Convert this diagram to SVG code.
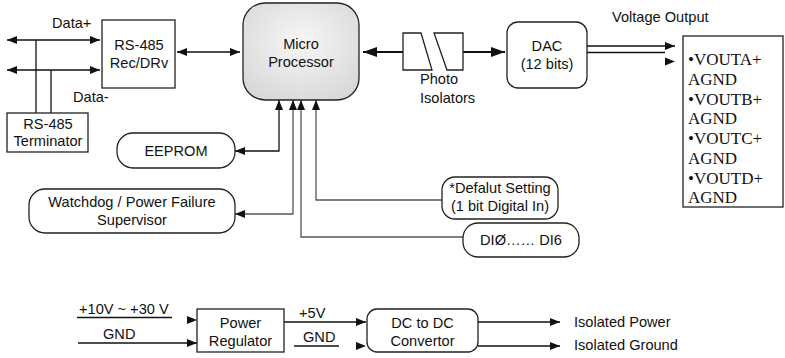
<svg xmlns="http://www.w3.org/2000/svg" width="785" height="358" viewBox="0 0 785 358">
<style>
text{font-family:"Liberation Sans",Arial,sans-serif;font-size:14.6px;fill:#111}
.c{text-anchor:middle}
.serif{font-family:"Liberation Serif","Times New Roman",serif;font-size:17px}
.box{fill:#fff;stroke:#222;stroke-width:1.3}
.ln{fill:none;stroke:#111;stroke-width:1.3}
.lg{fill:none;stroke:#555;stroke-width:1.3}
.thick{fill:none;stroke:#111;stroke-width:2.2}
</style>
<defs>
<marker id="ah" viewBox="0 0 10 8" refX="10" refY="4" markerWidth="10" markerHeight="8" markerUnits="userSpaceOnUse" orient="auto-start-reverse"><path d="M0,0L10,4L0,8z" fill="#111"/></marker>
<marker id="ahb" viewBox="0 0 14 10" refX="14" refY="5" markerWidth="14" markerHeight="10" markerUnits="userSpaceOnUse" orient="auto-start-reverse"><path d="M0,0L14,5L0,10z" fill="#111"/></marker>
<radialGradient id="mg" cx="0.5" cy="0.4" r="0.7"><stop offset="0" stop-color="#f7f7f7"/><stop offset="1" stop-color="#d6d6d6"/></radialGradient>
</defs>

<g id="connectors">
<line class="ln" x1="7" y1="40" x2="100" y2="40" marker-start="url(#ah)" marker-end="url(#ah)"/>
<line class="ln" x1="7" y1="70" x2="100" y2="70" marker-start="url(#ah)" marker-end="url(#ah)"/>
<line class="ln" x1="36" y1="40" x2="36" y2="113"/>
<line class="ln" x1="51" y1="70" x2="51" y2="113"/>
<line class="ln" x1="177" y1="52" x2="240" y2="52" marker-start="url(#ah)" marker-end="url(#ah)"/>
<line class="thick" x1="363" y1="52" x2="403" y2="52" marker-start="url(#ahb)"/>
<line class="thick" x1="463" y1="52" x2="505" y2="52" marker-end="url(#ahb)"/>
<line class="ln" x1="587" y1="46" x2="675" y2="46" marker-end="url(#ah)"/>
<line class="ln" x1="587" y1="52.5" x2="665" y2="52.5"/>
<path d="M665,57.5L675,61.5L665,65.5z" fill="#111"/>
<polyline class="ln" points="235,151 279,151 279,100" marker-start="url(#ah)" marker-end="url(#ah)"/>
<polyline class="lg" points="235,214 293,214 293,100" marker-start="url(#ah)" marker-end="url(#ah)"/>
<polyline class="lg" points="463,237 301,237 301,100" marker-end="url(#ah)"/>
<polyline class="lg" points="442,200 316,200 316,100" marker-end="url(#ah)"/>
<line class="ln" x1="77" y1="317.5" x2="172" y2="317.5"/>
<path d="M187,316L197,320L187,324z" fill="#111"/>
<line class="ln" x1="78" y1="343" x2="197" y2="343" marker-end="url(#ah)"/>
<line class="ln" x1="284" y1="322" x2="366" y2="322" marker-end="url(#ah)"/>
<line class="ln" x1="294" y1="346" x2="339" y2="346"/>
<path d="M356,342L366,346L356,350z" fill="#111"/>
<line class="ln" x1="478" y1="322" x2="560" y2="322" marker-end="url(#ah)"/>
<line class="ln" x1="478" y1="346" x2="560" y2="346" marker-end="url(#ah)"/>
</g>

<g id="labels">
<text x="52" y="28">Data+</text>
<text x="73" y="102">Data-</text>
<text x="612" y="22">Voltage Output</text>
<text x="420" y="84">Photo</text>
<text x="420" y="103">Isolators</text>
<text x="79" y="314">+10V ~ +30 V</text>
<text x="103" y="339">GND</text>
<text x="299" y="318">+5V</text>
<text x="303" y="342">GND</text>
<text x="574" y="327">Isolated Power</text>
<text x="574" y="350">Isolated Ground</text>
</g>

<g id="rec">
<rect class="box" x="102" y="20" width="73" height="68"/>
<text class="c" x="139" y="50">RS-485</text>
<text class="c" x="139" y="68">Rec/DRv</text>
</g>
<g id="terminator">
<rect class="box" x="7" y="113" width="81" height="39"/>
<text class="c" x="48" y="129">RS-485</text>
<text class="c" x="48" y="146">Terminator</text>
</g>
<g id="micro">
<rect x="243" y="3" width="116" height="97" rx="22" fill="url(#mg)" stroke="#222" stroke-width="1.3"/>
<text class="c" x="301" y="49">Micro</text>
<text class="c" x="301" y="67">Processor</text>
</g>
<g id="photo">
<polygon class="box" points="403,33 421,33 432,70 403,70"/>
<polygon class="box" points="434,33 463,33 463,70 447,70"/>
</g>
<g id="dac">
<rect class="box" x="507" y="22" width="80" height="66" rx="11"/>
<text class="c" x="547" y="51">DAC</text>
<text class="c" x="547" y="69">(12 bits)</text>
</g>
<g id="output">
<rect class="box" x="683" y="36" width="100" height="171"/>
<text class="serif" x="688" y="65">•VOUTA+</text>
<text class="serif" x="688" y="84.8">AGND</text>
<text class="serif" x="688" y="104.6">•VOUTB+</text>
<text class="serif" x="688" y="124.4">AGND</text>
<text class="serif" x="688" y="144.2">•VOUTC+</text>
<text class="serif" x="688" y="164">AGND</text>
<text class="serif" x="688" y="183.8">•VOUTD+</text>
<text class="serif" x="688" y="203">AGND</text>
</g>
<g id="eeprom">
<rect class="box" x="117" y="133" width="118" height="35" rx="16"/>
<text class="c" x="176" y="156">EEPROM</text>
</g>
<g id="watchdog">
<rect class="box" x="29" y="189" width="206" height="44" rx="16"/>
<text class="c" x="132" y="207">Watchdog / Power Failure</text>
<text class="c" x="132" y="225">Supervisor</text>
</g>
<g id="default">
<rect class="box" x="442" y="177" width="116" height="42" rx="13"/>
<text class="c" x="500" y="193">*Defalut Setting</text>
<text class="c" x="500" y="211">(1 bit Digital In)</text>
</g>
<g id="di">
<rect class="box" x="463" y="223" width="116" height="34" rx="15"/>
<text class="c" x="521" y="245">DIØ…… DI6</text>
</g>
<g id="regulator">
<rect class="box" x="197" y="309" width="87" height="43"/>
<text class="c" x="240.5" y="328">Power</text>
<text class="c" x="240.5" y="346">Regulator</text>
</g>
<g id="dcdc">
<rect class="box" x="367" y="309" width="111" height="43" rx="10"/>
<text class="c" x="422.5" y="328">DC to DC</text>
<text class="c" x="422.5" y="346">Convertor</text>
</g>
</svg>
